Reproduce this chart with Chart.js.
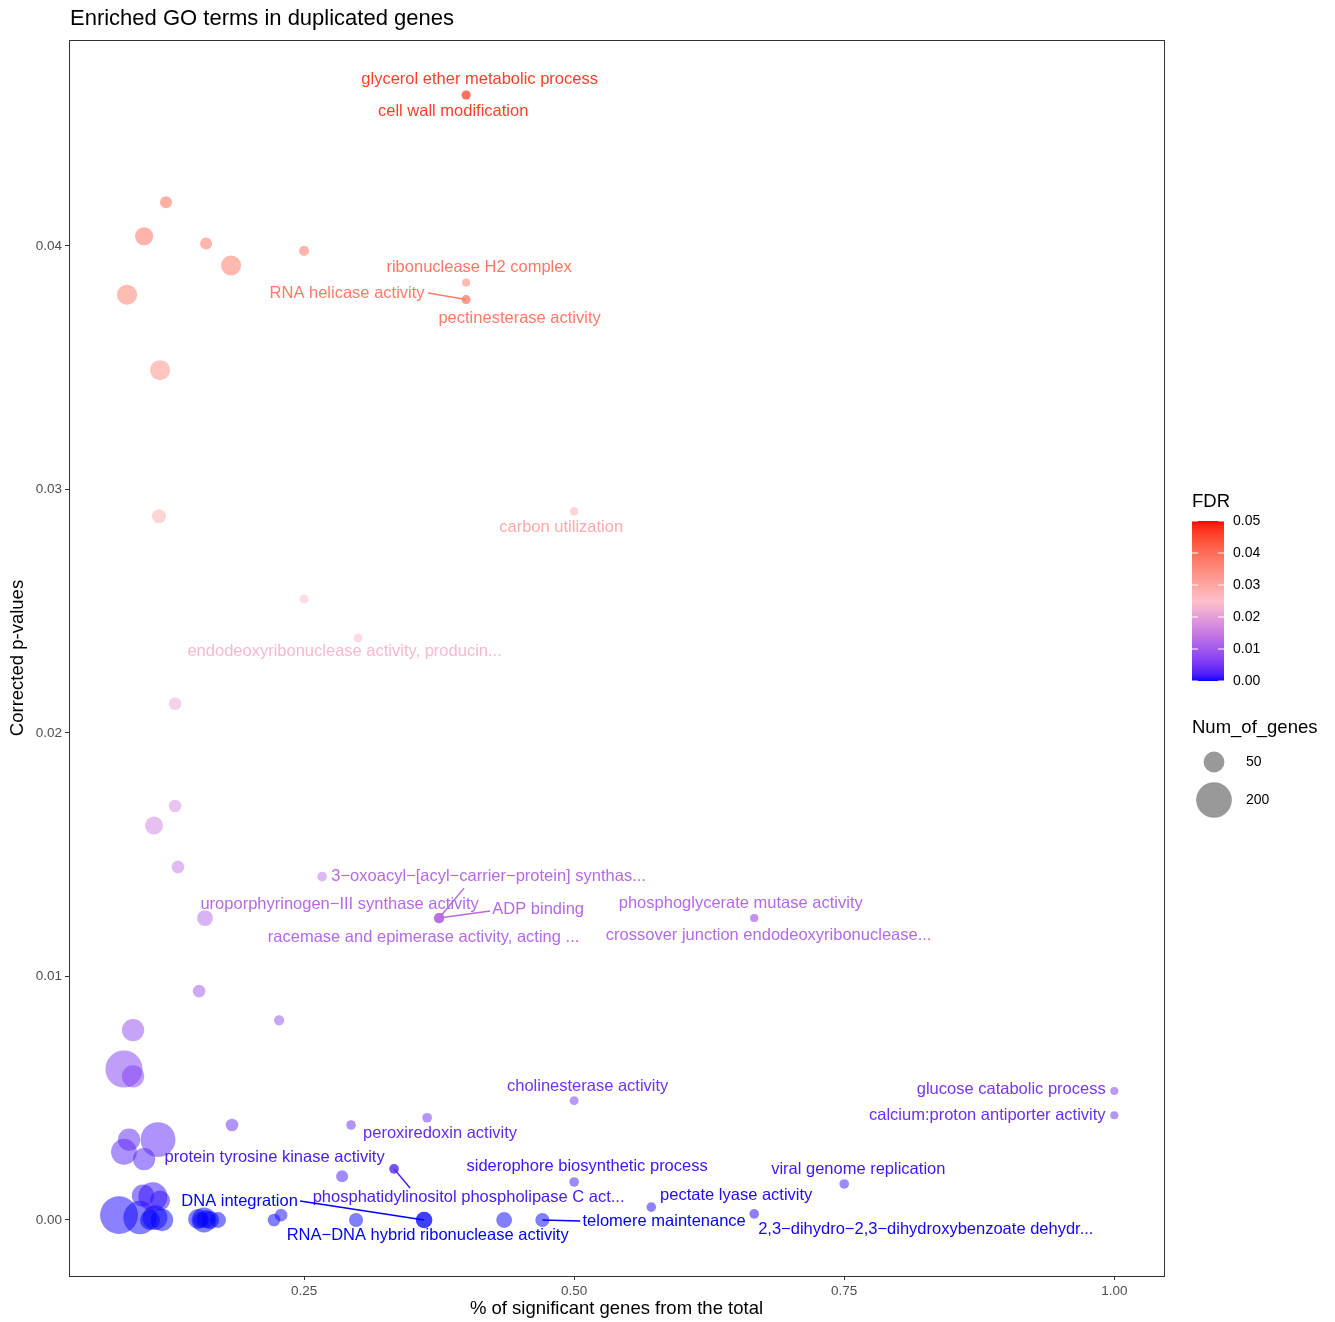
<!DOCTYPE html>
<html>
<head>
<meta charset="utf-8">
<script src="https://cdn.jsdelivr.net/npm/chart.js@4/dist/chart.umd.min.js"></script>
<style>
  html, body { margin: 0; padding: 0; background: #fff; }
  #wrap { width: 1335px; height: 1322px; }
</style>
</head>
<body>
<div id="wrap"><canvas id="goChart" width="1335" height="1322"></canvas></div>
<script>
// GO terms: '' = unlabelled point
const goTerm = [
  "glycerol ether metabolic process", "cell wall modification", "ribonuclease H2 complex",
  "RNA helicase activity", "pectinesterase activity", "carbon utilization",
  "endodeoxyribonuclease activity, producin...", "3\u2212oxoacyl\u2212[acyl\u2212carrier\u2212protein] synthas...",
  "uroporphyrinogen\u2212III synthase activity", "ADP binding", "racemase and epimerase activity, acting ...",
  "phosphoglycerate mutase activity", "crossover junction endodeoxyribonuclease...",
  "cholinesterase activity", "glucose catabolic process", "calcium:proton antiporter activity",
  "peroxiredoxin activity", "protein tyrosine kinase activity", "phosphatidylinositol phospholipase C act...",
  "siderophore biosynthetic process", "viral genome replication", "pectate lyase activity",
  "2,3\u2212dihydro\u22122,3\u2212dihydroxybenzoate dehydr...", "telomere maintenance", "DNA integration",
  "RNA\u2212DNA hybrid ribonuclease activity",
  "", "", "", "", "", "", "", "", "", "", "", "", "", "", "", "", "", "", "", "", "", "", "", "", "", "", "",
  "", "", "", "", "", "", "", "", "", "", "", "", "", ""
];
const pctSig = [
  0.4, 0.4, 0.4, 0.4, 0.4, 0.5, 0.3, 0.375, 0.375, 0.375, 0.375, 0.6667, 0.6667,
  0.5, 1.0, 1.0, 0.2935, 0.3333, 0.3333, 0.5, 0.75, 0.5714, 0.6667, 0.4706, 0.3611, 0.3611,
  0.1222, 0.1019, 0.1593, 0.25, 0.1824, 0.0861, 0.1167, 0.1157, 0.25, 0.1306, 0.1306, 0.1111,
  0.1333, 0.2667, 0.1583, 0.1528, 0.2269, 0.0917, 0.0833, 0.0917, 0.3639, 0.1833, 0.1148, 0.0880,
  0.0833, 0.1019, 0.2852, 0.4352, 0.2981, 0.2222, 0.2287,
  0.0787, 0.0981, 0.1009, 0.1100, 0.1167, 0.1120, 0.1185, 0.1074, 0.1519, 0.1574, 0.1593, 0.1546,
  0.1704, 0.1630
];
const pValue = [
  0.0462, 0.0462, 0.0385, 0.0378, 0.0378, 0.0291, 0.0239, 0.0124, 0.0124, 0.0124, 0.0124, 0.0124, 0.0124,
  0.0049, 0.0053, 0.0043, 0.0039, 0.0021, 0.0021, 0.00156, 0.00148, 0.00053, 0.00025, 0.0, 0.0, 0.0,
  0.0418, 0.0404, 0.0401, 0.0398, 0.0392, 0.0380, 0.0349, 0.0289, 0.0255, 0.0212, 0.0170, 0.0162,
  0.0145, 0.0141, 0.0124, 0.0094, 0.0082, 0.0078, 0.0062, 0.0059, 0.0042, 0.0039, 0.0033, 0.0033,
  0.0028, 0.0025, 0.0018, 0.0, 0.0, 0.0, 0.0002,
  0.0002, 0.0001, 0.0010, 0.00095, 0.0008, 0.0001, 0.0, 0.0, 0.00004, 0.0, 0.00004, 0.0,
  0.0, 0.0
];
const numGenes = [
  2, 2, 1, 2, 2, 1, 2, 4, 4, 4, 4, 1, 1,
  2, 1, 1, 3, 3, 3, 3, 3, 3, 3, 15, 25, 25,
  8, 33, 8, 4, 45, 45, 45, 15, 2, 10, 10, 33,
  10, 3, 22, 10, 4, 60, 220, 60, 3, 10, 190, 60,
  90, 60, 8, 22, 15, 10, 10,
  230, 170, 60, 120, 45, 80, 60, 45, 45, 80, 33, 22,
  22, 33
];

const xTicks = [0.25, 0.5, 0.75, 1.0];
const yTicks = [0, 0.01, 0.02, 0.03, 0.04];
const fdrTicks = [0, 0.01, 0.02, 0.03, 0.04, 0.05];
const sizeBreaks = [50, 200];

// repel layout of the labels (text centre, optional segment start), data units
const labelLayout = [
  { term: "glycerol ether metabolic process", x: 0.4125, y: 0.04682 },
  { term: "cell wall modification", x: 0.388, y: 0.04554 },
  { term: "ribonuclease H2 complex", x: 0.412, y: 0.0391 },
  { term: "RNA helicase activity", x: 0.2898, y: 0.03807, sx: 0.3648, sy: 0.03807 },
  { term: "pectinesterase activity", x: 0.4495, y: 0.03704 },
  { term: "carbon utilization", x: 0.488, y: 0.02846 },
  { term: "endodeoxyribonuclease activity, producin...", x: 0.2875, y: 0.02333 },
  { term: "3\u2212oxoacyl\u2212[acyl\u2212carrier\u2212protein] synthas...", x: 0.4208, y: 0.01409, sx: 0.3981, sy: 0.01363 },
  { term: "uroporphyrinogen\u2212III synthase activity", x: 0.2829, y: 0.01294 },
  { term: "ADP binding", x: 0.4667, y: 0.01277, sx: 0.4222, sy: 0.01269 },
  { term: "racemase and epimerase activity, acting ...", x: 0.3606, y: 0.01162 },
  { term: "phosphoglycerate mutase activity", x: 0.6542, y: 0.01302 },
  { term: "crossover junction endodeoxyribonuclease...", x: 0.68, y: 0.0117 },
  { term: "cholinesterase activity", x: 0.5125, y: 0.0055 },
  { term: "glucose catabolic process", x: 0.9046, y: 0.00538 },
  { term: "calcium:proton antiporter activity", x: 0.8824, y: 0.00431 },
  { term: "peroxiredoxin activity", x: 0.3759, y: 0.00357 },
  { term: "protein tyrosine kinase activity", x: 0.2227, y: 0.00255 },
  { term: "siderophore biosynthetic process", x: 0.512, y: 0.00218 },
  { term: "viral genome replication", x: 0.763, y: 0.00209 },
  { term: "phosphatidylinositol phospholipase C act...", x: 0.4023, y: 0.00094, sx: 0.3481, sy: 0.00131 },
  { term: "pectate lyase activity", x: 0.65, y: 0.00099 },
  { term: "DNA integration", x: 0.1903, y: 0.00078, sx: 0.2463, sy: 0.00078 },
  { term: "telomere maintenance", x: 0.5833, y: -0.00004, sx: 0.5056, sy: -0.00004 },
  { term: "2,3\u2212dihydro\u22122,3\u2212dihydroxybenzoate dehydr...", x: 0.8255, y: -0.00037 },
  { term: "RNA\u2212DNA hybrid ribonuclease activity", x: 0.3644, y: -0.00062 }
];

const FONT = '"Liberation Sans", Arial, Helvetica, sans-serif';

// colour scale: blue - pink - red, interpolated in Lab like ggplot's gradient2
function toLin(c) { c /= 255; return c <= 0.04045 ? c / 12.92 : Math.pow((c + 0.055) / 1.055, 2.4); }
function fromLin(c) { c = c <= 0.0031308 ? 12.92 * c : 1.055 * Math.pow(c, 1 / 2.4) - 0.055; return Math.max(0, Math.min(255, Math.round(c * 255))); }
function rgbToLab(rgb) {
  const [r, g, b] = rgb.map(toLin);
  let x = (r * 0.4124 + g * 0.3576 + b * 0.1805) / 0.95047;
  let y = (r * 0.2126 + g * 0.7152 + b * 0.0722);
  let z = (r * 0.0193 + g * 0.1192 + b * 0.9505) / 1.08883;
  const f = (t) => t > 0.008856 ? Math.cbrt(t) : 7.787 * t + 16 / 116;
  x = f(x); y = f(y); z = f(z);
  return [116 * y - 16, 500 * (x - y), 200 * (y - z)];
}
function labToRgb(lab) {
  const fy = (lab[0] + 16) / 116, fx = fy + lab[1] / 500, fz = fy - lab[2] / 200;
  const inv = (t) => t * t * t > 0.008856 ? t * t * t : (t - 16 / 116) / 7.787;
  const x = inv(fx) * 0.95047, y = inv(fy), z = inv(fz) * 1.08883;
  const r = x * 3.2406 + y * -1.5372 + z * -0.4986;
  const g = x * -0.9689 + y * 1.8758 + z * 0.0415;
  const b = x * 0.0557 + y * -0.2040 + z * 1.0570;
  return [fromLin(r), fromLin(g), fromLin(b)];
}
const labLow = rgbToLab([0, 0, 255]);
const labMid = rgbToLab([255, 192, 203]);
const labHigh = rgbToLab([255, 0, 0]);
const fdrMin = 0, fdrMax = 0.05, fdrMid = 0.025;

function fdrRgb(v) {
  let a, b, t;
  if (v <= fdrMid) { a = labLow; b = labMid; t = (v - fdrMin) / (fdrMid - fdrMin); }
  else { a = labMid; b = labHigh; t = (v - fdrMid) / (fdrMax - fdrMid); }
  t = Math.max(0, Math.min(1, t));
  return labToRgb([0, 1, 2].map((i) => a[i] + (b[i] - a[i]) * t));
}
function fdrColor(v, alpha) {
  const c = fdrRgb(v);
  return `rgba(${c[0]},${c[1]},${c[2]},${alpha})`;
}
function geneRadius(n) {
  return 3 + 1.05 * Math.sqrt(n);
}

const points = pctSig.map((x, i) => ({ x: x, y: pValue[i], r: geneRadius(numGenes[i]) }));

const decorPlugin = {
  id: "decor",
  afterDatasetsDraw(chart) {
    const ctx = chart.ctx;
    const xs = chart.scales.x, ys = chart.scales.y;
    const area = chart.chartArea;
    ctx.save();
    ctx.textBaseline = "middle";
    ctx.font = `16.5px ${FONT}`;
    labelLayout.forEach((lab) => {
      const i = goTerm.indexOf(lab.term);
      const col = fdrColor(pValue[i], 1);
      const lx = xs.getPixelForValue(lab.x), ly = ys.getPixelForValue(lab.y);
      if (lab.sx !== undefined) {
        ctx.strokeStyle = col;
        ctx.lineWidth = 1.5;
        ctx.beginPath();
        ctx.moveTo(xs.getPixelForValue(lab.sx), ys.getPixelForValue(lab.sy));
        ctx.lineTo(xs.getPixelForValue(pctSig[i]), ys.getPixelForValue(pValue[i]));
        ctx.stroke();
      }
      ctx.fillStyle = col;
      ctx.textAlign = "center";
      ctx.fillText(lab.term, lx, ly);
    });

    // panel border
    ctx.strokeStyle = "#333";
    ctx.lineWidth = 1;
    ctx.strokeRect(area.left + 0.5, area.top + 0.5, area.right - area.left, area.bottom - area.top);

    // titles
    ctx.fillStyle = "#000";
    ctx.textAlign = "left";
    ctx.font = `22px ${FONT}`;
    ctx.fillText("Enriched GO terms in duplicated genes", 70, 19);
    ctx.font = `18.5px ${FONT}`;
    ctx.textAlign = "center";
    ctx.fillText("% of significant genes from the total", (area.left + area.right) / 2, 1309);
    ctx.save();
    ctx.translate(18, (area.top + area.bottom) / 2);
    ctx.rotate(-Math.PI / 2);
    ctx.fillText("Corrected p-values", 0, 0);
    ctx.restore();

    // FDR colour bar
    const barL = 1192, barR = 1224, barTop = 521, barBot = 681;
    ctx.textAlign = "left";
    ctx.font = `18.5px ${FONT}`;
    ctx.fillText("FDR", 1192, 502);
    const grad = ctx.createLinearGradient(0, barBot, 0, barTop);
    for (let k = 0; k <= 40; k++) {
      const v = fdrMin + (fdrMax - fdrMin) * k / 40;
      grad.addColorStop(k / 40, fdrColor(v, 1));
    }
    ctx.fillStyle = grad;
    ctx.fillRect(barL, barTop, barR - barL, barBot - barTop);
    ctx.font = `14px ${FONT}`;
    fdrTicks.forEach((v) => {
      const py = barBot - (v - fdrMin) / (fdrMax - fdrMin) * (barBot - barTop);
      ctx.strokeStyle = "#fff";
      ctx.lineWidth = 1;
      ctx.beginPath();
      ctx.moveTo(barL, py); ctx.lineTo(barL + 6, py);
      ctx.moveTo(barR - 6, py); ctx.lineTo(barR, py);
      ctx.stroke();
      ctx.fillStyle = "#000";
      ctx.fillText(v.toFixed(2), 1233, py);
    });

    // size legend
    ctx.font = `18.5px ${FONT}`;
    ctx.fillText("Num_of_genes", 1192, 728);
    const rowY = [762, 800];
    ctx.font = `14px ${FONT}`;
    sizeBreaks.forEach((n, k) => {
      ctx.fillStyle = "rgba(153,153,153,1)";
      ctx.beginPath();
      ctx.arc(1214, rowY[k], geneRadius(n), 0, Math.PI * 2);
      ctx.fill();
      ctx.fillStyle = "#000";
      ctx.fillText(String(n), 1246, rowY[k]);
    });
    ctx.restore();
  }
};

const ctx = document.getElementById("goChart").getContext("2d");
new Chart(ctx, {
  type: "bubble",
  data: {
    datasets: [{
      label: "GO terms",
      data: points,
      backgroundColor: pValue.map((v) => fdrColor(v, 0.5)),
      borderWidth: 0,
      hoverBorderWidth: 0
    }]
  },
  options: {
    responsive: false,
    animation: false,
    events: [],
    layout: { padding: { top: 40, right: 171, left: 0, bottom: 0 } },
    plugins: {
      legend: { display: false },
      title: { display: false },
      tooltip: { enabled: false }
    },
    scales: {
      x: {
        type: "linear",
        min: 0.0324,
        max: 1.046,
        border: { display: false },
        grid: { drawOnChartArea: false, drawTicks: true, tickLength: 4, color: "#333" },
        ticks: { color: "#4d4d4d", padding: 3, font: { family: FONT, size: 13.5 }, callback: (v) => Number(v).toFixed(2) },
        afterBuildTicks: (s) => { s.ticks = xTicks.map((v) => ({ value: v })); },
        afterFit: (s) => { s.height = 46; }
      },
      y: {
        type: "linear",
        min: -0.0023,
        max: 0.04846,
        border: { display: false },
        grid: { drawOnChartArea: false, drawTicks: true, tickLength: 4, color: "#333" },
        ticks: { color: "#4d4d4d", padding: 3, font: { family: FONT, size: 13.5 }, callback: (v) => Number(v).toFixed(2) },
        afterBuildTicks: (s) => { s.ticks = yTicks.map((v) => ({ value: v })); },
        afterFit: (s) => { s.width = 69; }
      }
    }
  },
  plugins: [decorPlugin]
});
</script>
</body>
</html>
